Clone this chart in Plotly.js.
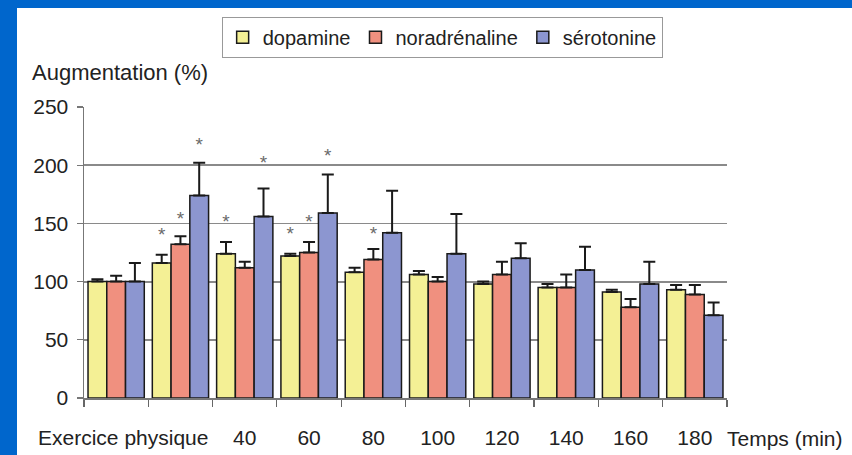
<!DOCTYPE html>
<html>
<head>
<meta charset="utf-8">
<script src="https://cdn.plot.ly/plotly-3.0.1.min.js"></script>
<style>
html,body{margin:0;padding:0;background:#0066cc;width:852px;height:455px;overflow:hidden;}
#chart{position:absolute;left:17px;top:8px;width:835px;height:447px;background:#fff;}
</style>
</head>
<body>
<div id="chart"></div>
<script>
// ---- data ----
const groups = [0,1,2,3,4,5,6,7,8,9];
const tickPositions = [0.11,2,3,4,5,6,7,8,9];
const tickLabels = ['Exercice physique','40','60','80','100','120','140','160','180'];
const seriesNames = ['dopamine','noradrénaline','sérotonine'];
const dopamine      = [100,116,124,122,108,106, 98, 95, 91, 93];
const dopamineErr   = [  2,  7, 10,  2,  4,  3,  2,  3,  2,  4];
const noradrenaline = [100,132,112,125,119,100,106, 95, 78, 89];
const noradrenalineErr = [5, 7,  5,  9,  9,  4, 11, 11,  7,  8];
const serotonine    = [100,174,156,159,142,124,120,110, 98, 71];
const serotonineErr = [ 16, 28, 24, 33, 36, 34, 13, 20, 19, 11];
// significance stars (null = none)
const dopamineStar      = [null,139,150,140,null,null,null,null,null,null];
const noradrenalineStar = [null,153,null,150,140,null,null,null,null,null];
const serotonineStar    = [null,216,201,207,null,null,null,null,null,null];
const colors = ['#f4f095','#f0907f','#8c96d0'];

const values = [dopamine, noradrenaline, serotonine];
const errs = [dopamineErr, noradrenalineErr, serotonineErr];
const stars = [dopamineStar, noradrenalineStar, serotonineStar];

const traces = [];
for (let i = 0; i < 3; i++) {
  traces.push({
    type:'bar', name: seriesNames[i], x: groups, y: values[i],
    offsetgroup: 'g'+i, alignmentgroup:'a',
    marker:{color: colors[i], line:{color:'#1a1a1a', width:1.5}},
    error_y:{type:'data', symmetric:false, array: errs[i], arrayminus: errs[i].map(()=>0),
             color:'#1a1a1a', thickness:2, width:6},
    hoverinfo:'skip'
  });
}
for (let i = 0; i < 3; i++) {
  traces.push({
    type:'scatter', mode:'text', x: groups, y: stars[i], text: stars[i].map(v => v===null ? '' : '*'),
    offsetgroup: 'g'+i, alignmentgroup:'a',
    textfont:{family:'Liberation Sans, Arial, sans-serif', size:19, color:'#6a6a6a'},
    textposition:'middle center', showlegend:false, hoverinfo:'skip', cliponaxis:false
  });
}

const font = 'Liberation Sans, Arial, sans-serif';
const layout = {
  width:835, height:447,
  margin:{l:67, r:125, t:99, b:57, autoexpand:false},
  paper_bgcolor:'#ffffff', plot_bgcolor:'#ffffff',
  font:{family:font, size:20, color:'#222'},
  barmode:'group', bargap:0.125, bargroupgap:0,
  scattermode:'group',
  showlegend:true,
  legend:{orientation:'h', x:0.557, xanchor:'center', y:1.31, yanchor:'top',
          bordercolor:'#999', borderwidth:1, font:{family:font, size:20, color:'#222'},
          traceorder:'normal', itemclick:false},
  xaxis:{
    range:[-0.5,9.5], tickmode:'array', tickvals: tickPositions, ticktext: tickLabels,
    ticks:'', showgrid:false, zeroline:false, showline:true, linecolor:'#777', linewidth:1.5,
    tickfont:{family:font, size:21, color:'#222'}, ticklabelstandoff:20,
    minor:{tickmode:'linear', tick0:-0.5, dtick:1, ticks:'outside', ticklen:7, tickwidth:1.2, tickcolor:'#666', showgrid:false}
  },
  yaxis:{
    range:[0,250], dtick:50, tick0:0, ticks:'outside', ticklen:6, tickcolor:'#777', tickwidth:1.2,
    showgrid:true, gridcolor:'#8a8a8a', gridwidth:1.8, zeroline:false,
    showline:true, linecolor:'#777', linewidth:1.5,
    tickfont:{family:font, size:21, color:'#222'}, ticklabelstandoff:4
  },
  annotations:[
    {text:'Augmentation (%)', xref:'paper', yref:'paper', x:-0.084, y:1.12, xanchor:'left', yanchor:'middle',
     showarrow:false, font:{family:font, size:22, color:'#222'}},
    {text:'Temps (min)', xref:'paper', yref:'paper', x:0.997, y:-0.138, xanchor:'left', yanchor:'middle',
     showarrow:false, font:{family:font, size:21, color:'#222'}}
  ]
};
Plotly.newPlot('chart', traces, layout, {staticPlot:true, displayModeBar:false});
</script>
</body>
</html>
